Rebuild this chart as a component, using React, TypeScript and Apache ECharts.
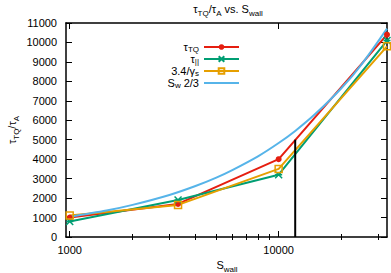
import { useEffect, useRef } from "react";
import * as echarts from "echarts";

const FONT = "'Liberation Sans', Arial, sans-serif";

const sWall = [1000, 3300, 10000, 33000];
const tauTQ = [1000, 1700, 4000, 10400];
const tauPar = [800, 1900, 3200, 10100];
const gammaRatio = [1100, 1650, 3500, 9800];
const scalingS = [1000, 1500, 2000, 3000, 4000, 5000, 6000, 8000, 10000, 12000, 15000, 20000, 25000, 33000];
const scalingV = [1040, 1360, 1650, 2160, 2620, 3040, 3440, 4160, 4830, 5450, 6330, 7660, 8890, 10710];
const markerLineS = [12000, 12000];
const markerLineV = [0, 5000];
const xMajorTicks = [1000, 10000];
const xMinorTicks = [2000, 3000, 4000, 5000, 6000, 7000, 8000, 9000, 20000, 30000];
const xMin = 960;
const xMax = 33000;
const yMin = 0;
const yMax = 11000;
const yStep = 1000;

const seriesNames = ["tauTQ", "tauPar", "gamma", "sw"];
const legendLabels: Record<string, string> = {
  tauTQ: "{m|τ}{sub|TQ}",
  tauPar: "{m|τ}{sub|||}",
  gamma: "{m|3.4/γ}{sub|s}",
  sw: "{m|S}{sub|w}{m| 2/3}",
};

const RED = "#e51e10";
const GREEN = "#009e73";
const ORANGE = "#e69f00";
const BLUE = "#56b4e9";

const zip = (xs: number[], ys: number[]) => xs.map((x, i) => [x, ys[i]]);

const sub = { fontSize: 8, fontFamily: FONT, color: "#000", lineHeight: 16, verticalAlign: "bottom" as const };
const legSub = { fontSize: 8, fontFamily: FONT, color: "#000", lineHeight: 12, verticalAlign: "bottom" as const };
const legMain = { fontSize: 11, fontFamily: FONT, color: "#000", lineHeight: 12, verticalAlign: "top" as const };

export default function App() {
  const ref = useRef<HTMLDivElement>(null);
  useEffect(() => {
    if (!ref.current) return;
    const chart = echarts.init(ref.current, null, { renderer: "svg" });
    const logAxisBase = {
      type: "log" as const,
      logBase: 10,
      min: xMin,
      max: xMax,
      splitLine: { show: false },
      minorSplitLine: { show: false },
    };
    const plain = (v: number) => String(Math.round(v));
    chart.setOption({
      animation: false,
      backgroundColor: "#fff",
      grid: { left: 66, right: 4, top: 23, bottom: 36, outerBoundsMode: "none" },
      legend: {
        orient: "vertical",
        right: 151,
        top: 41,
        align: "right",
        padding: 0,
        itemGap: 0,
        itemWidth: 35,
        itemHeight: 7,
        data: seriesNames,
        formatter: (n: string) => legendLabels[n],
        textStyle: { fontFamily: FONT, fontSize: 11, color: "#000", lineHeight: 12, rich: { sub: legSub, m: legMain } },
      },
      xAxis: [
        {
          ...logAxisBase,
          position: "bottom",
          axisLine: { show: true, onZero: false, lineStyle: { color: "#000", width: 1.5 } },
          axisTick: { show: true, inside: true, length: 6, customValues: xMajorTicks, lineStyle: { color: "#000" } },
          axisLabel: { customValues: xMajorTicks, formatter: plain, margin: 7, fontFamily: FONT, fontSize: 11, color: "#000" },
        },
        {
          ...logAxisBase,
          position: "top",
          axisLine: { show: true, onZero: false, lineStyle: { color: "#000", width: 1.5 } },
          axisTick: { show: true, inside: true, length: 6, customValues: xMajorTicks, lineStyle: { color: "#000" } },
          axisLabel: { show: false },
        },
        {
          ...logAxisBase,
          position: "bottom",
          axisLine: { show: false },
          axisTick: { show: true, inside: true, length: 3, customValues: xMinorTicks, lineStyle: { color: "#000" } },
          axisLabel: { show: false },
        },
        {
          ...logAxisBase,
          position: "top",
          axisLine: { show: false },
          axisTick: { show: true, inside: true, length: 3, customValues: xMinorTicks, lineStyle: { color: "#000" } },
          axisLabel: { show: false },
        },
      ],
      yAxis: [
        {
          type: "value",
          min: yMin,
          max: yMax,
          interval: yStep,
          position: "left",
          splitLine: { show: false },
          axisLine: { show: true, onZero: false, lineStyle: { color: "#000", width: 1.5 } },
          axisTick: { show: true, inside: true, length: 6, lineStyle: { color: "#000" } },
          axisLabel: { margin: 9, formatter: plain, fontFamily: FONT, fontSize: 11, color: "#000" },
        },
        {
          type: "value",
          min: yMin,
          max: yMax,
          interval: yStep,
          position: "right",
          splitLine: { show: false },
          axisLine: { show: true, onZero: false, lineStyle: { color: "#000", width: 1.5 } },
          axisTick: { show: true, inside: true, length: 6, lineStyle: { color: "#000" } },
          axisLabel: { show: false },
        },
      ],
      series: [
        {
          name: "tauTQ",
          type: "line",
          color: RED,
          data: zip(sWall, tauTQ),
          lineStyle: { color: RED, width: 2 },
          symbol: "circle",
          symbolSize: 6,
          itemStyle: { color: RED, borderColor: RED, borderWidth: 0 },
          emphasis: { disabled: true },
        },
        {
          name: "tauPar",
          type: "line",
          color: GREEN,
          data: zip(sWall, tauPar),
          lineStyle: { color: GREEN, width: 2 },
          symbol: "path://M0,0L10,10M10,0L0,10M0,5L10,5",
          symbolSize: 7,
          itemStyle: { color: "none", borderColor: GREEN, borderWidth: 1.5 },
          emphasis: { disabled: true },
        },
        {
          name: "gamma",
          type: "line",
          color: ORANGE,
          data: zip(sWall, gammaRatio),
          lineStyle: { color: ORANGE, width: 2 },
          symbol: "path://M0,0L10,0L10,10L0,10Z",
          symbolSize: 7,
          itemStyle: { color: "none", borderColor: ORANGE, borderWidth: 1.5 },
          emphasis: { disabled: true },
        },
        {
          name: "sw",
          type: "line",
          color: BLUE,
          data: zip(scalingS, scalingV),
          smooth: 0.3,
          showSymbol: false,
          symbol: "path://M0,0L10,0L10,10L0,10Z",
          itemStyle: { color: "rgba(0,0,0,0)", borderColor: "rgba(0,0,0,0)", borderWidth: 0 },
          lineStyle: { color: BLUE, width: 2 },
          emphasis: { disabled: true },
        },
        {
          name: "marker",
          type: "line",
          data: zip(markerLineS, markerLineV),
          showSymbol: false,
          symbol: "none",
          lineStyle: { color: "#000", width: 2 },
          emphasis: { disabled: true },
        },
      ],
      graphic: [
        {
          type: "text",
          x: 228,
          y: 9,
          style: {
            text: "τ{sub|TQ}/τ{sub|A} vs. S{sub|wall}",
            fontFamily: FONT,
            fontSize: 11,
            lineHeight: 16,
            fill: "#000",
            align: "center",
            verticalAlign: "middle",
            rich: { sub },
          },
        },
        {
          type: "text",
          x: 12,
          y: 130,
          rotation: Math.PI / 2,
          style: {
            text: "τ{sub|TQ}/τ{sub|A}",
            fontFamily: FONT,
            fontSize: 11,
            lineHeight: 16,
            fill: "#000",
            align: "center",
            verticalAlign: "middle",
            rich: { sub },
          },
        },
        {
          type: "text",
          x: 227,
          y: 265,
          style: {
            text: "S{sub|wall}",
            fontFamily: FONT,
            fontSize: 11,
            lineHeight: 16,
            fill: "#000",
            align: "center",
            verticalAlign: "middle",
            rich: { sub },
          },
        },
      ],
    });
    return () => chart.dispose();
  }, []);
  return <div ref={ref} style={{ width: 391, height: 273, position: "fixed", left: 0, top: 0 }} />;
}
